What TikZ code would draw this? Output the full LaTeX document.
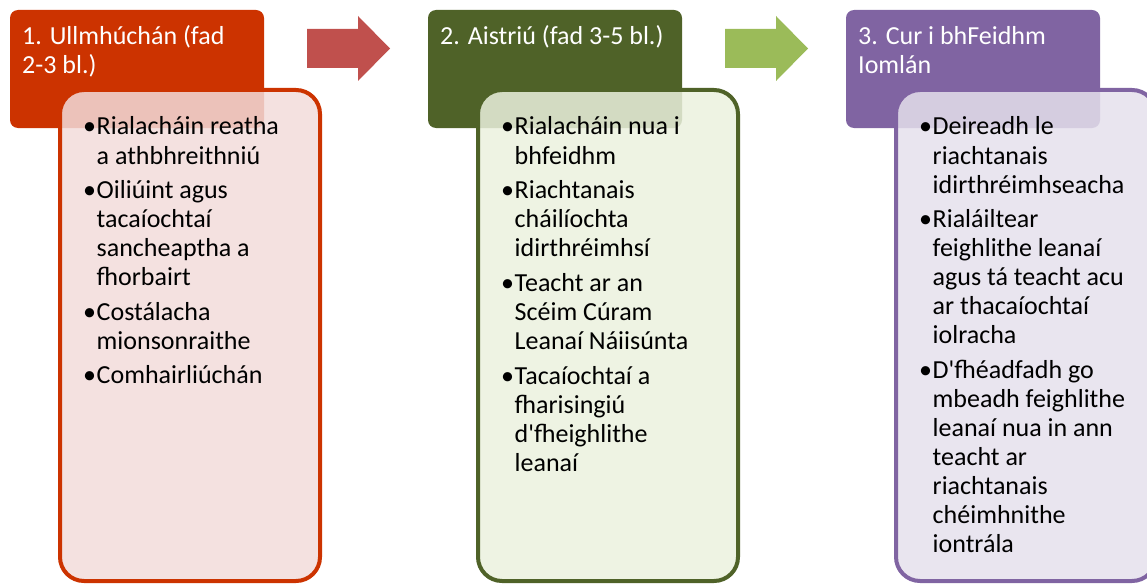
\documentclass[tikz,border=0pt]{standalone}
\usepackage{fontspec}
\setmainfont{Carlito}
\definecolor{headred}{RGB}{204,51,0}
\definecolor{fillred}{RGB}{242,220,219}
\definecolor{arrowred}{RGB}{192,80,77}
\definecolor{headgreen}{RGB}{79,98,40}
\definecolor{fillgreen}{RGB}{235,241,222}
\definecolor{arrowgreen}{RGB}{155,187,89}
\definecolor{headpurple}{RGB}{128,100,162}
\definecolor{fillpurple}{RGB}{229,224,236}

\begin{document}
\begin{tikzpicture}[x=1pt,y=-1pt,
  every node/.style={inner sep=0pt,anchor=base west,font=\fontsize{26}{29}\selectfont},
  headtext/.style={text=white}]
\useasboundingbox (0,0) rectangle (1147,583);
\clip (0,0) rectangle (1147,583);
% boxes
\foreach \dx/\col in {0/red,418/green,836/purple} {
    \fill[head\col,rounded corners=8] (10+\dx,10) rectangle (264+\dx,128);
    \draw[head\col,line width=4,fill=fill\col,fill opacity=0.85,rounded corners=24]
        (60+\dx,90) rectangle (320+\dx,581);
}
% arrows
\foreach \dx/\col in {0/red,418/green}
    \fill[arrow\col] (307+\dx,29) -- (358+\dx,29) -- (358+\dx,16) -- (390+\dx,48.5)
        -- (358+\dx,81) -- (358+\dx,68) -- (307+\dx,68) -- cycle;
% step 1
\node[headtext] (h1a) at (22,45) {1. Ullmhúchán (fad};
\node[headtext] (h1b) at (22,74) {2-3 bl.)};
\foreach \y in {135,198,320,383}
    \node (b1-\y) at (83,\y) {•};
\foreach \y/\t in {135/Rialacháin reatha,164/a athbhreithniú,
    198/Oiliúint agus,227/tacaíochtaí,256/sancheaptha a,285/fhorbairt,
    320/Costálacha,349/mionsonraithe,383/Comhairliúchán}
    \node (t1-\y) at (96.5,\y) {\t};
% step 2
\node[headtext] (h2a) at (440,45) {2. Aistriú (fad 3-5 bl.)};
\foreach \y in {135,198,291,384}
    \node (b2-\y) at (501,\y) {•};
\foreach \y/\t in {135/Rialacháin nua i,164/bhfeidhm,
    198/Riachtanais,227/cháilíochta,256/idirthréimhsí,
    291/Teacht ar an,320/Scéim Cúram,349/Leanaí Náiisúnta,
    384/Tacaíochtaí a,413/fharisingiú,442/d\textquotesingle fheighlithe,471/leanaí}
    \node (t2-\y) at (514.5,\y) {\t};
% step 3
\node[headtext] (h3a) at (858,45) {3. Cur i bhFeidhm};
\node[headtext] (h3b) at (858,74) {Iomlán};
\foreach \y in {135,227,378}
    \node (b3-\y) at (919,\y) {•};
\foreach \y/\t in {135/Deireadh le,164/riachtanais,193/idirthréimhseacha,
    227/Rialáiltear,256/feighlithe leanaí,285/agus tá teacht acu,314/ar thacaíochtaí,343/iolracha,
    378/D\textquotesingle fhéadfadh go,407/mbeadh feighlithe,436/leanaí nua in ann,465/teacht ar,
    494/riachtanais,523/chéimhnithe,552/iontrála}
    \node (t3-\y) at (932.5,\y) {\t};
\end{tikzpicture}
\end{document}
